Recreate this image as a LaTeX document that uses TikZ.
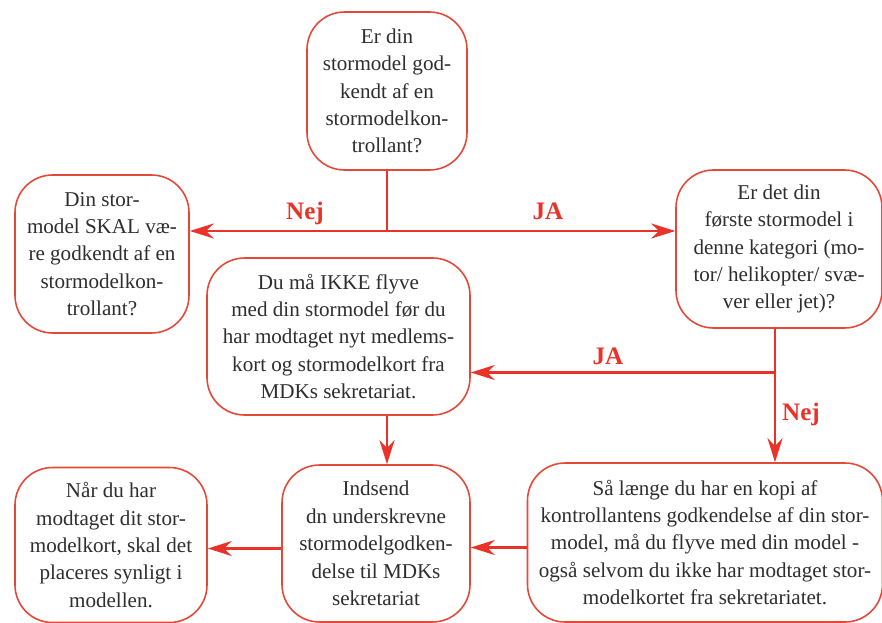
\documentclass[tikz,border=0pt]{standalone}
\usepackage{fontspec}
\setmainfont{Liberation Serif}
\usetikzlibrary{arrows.meta,positioning,calc}
\definecolor{flowred}{RGB}{234,50,40}
\definecolor{boxred}{RGB}{228,72,56}
\tikzset{
  box/.style={rectangle, rounded corners=7.5mm, draw=boxred, fill=white, line width=0.9pt, align=center, text=black!82, font=\fontsize{12}{15.6}\selectfont, inner sep=2pt},
  arrow/.style={-{Stealth[length=4.8mm, width=3mm]}, line width=1.4pt, flowred},
  redline/.style={line width=1.4pt, flowred},
  answer/.style={text=flowred, font=\fontsize{14.3}{16}\selectfont\bfseries}
}

\begin{document}
\begin{tikzpicture}
  \useasboundingbox[fill=white] (0,0) rectangle (17.64,-12.44);
  % question boxes
  \node[box, minimum width=3.2cm, minimum height=3.16cm] (godkendt) at (7.74,-1.82) {Er din\\ stormodel god-\\ kendt af en\\ stormodelkon-\\ trollant?};
  \node[box, minimum width=3.48cm, minimum height=3.16cm] (skal) at (2.04,-5.08) {Din stor-\\ model SKAL væ-\\ re godkendt af en\\ stormodelkon-\\ trollant?};
  \node[box, minimum width=4.12cm, minimum height=3.16cm] (foerste) at (15.58,-4.98) {Er det din\\ første stormodel i\\ denne kategori (mo-\\ tor/ helikopter/ svæ-\\ ver eller jet)?};
  \node[box, minimum width=5.26cm, minimum height=3.14cm] (ikke) at (6.77,-6.73) {Du må IKKE flyve\\ med din stormodel før du\\ har modtaget nyt medlems-\\ kort og stormodelkort fra\\ MDKs sekretariat.};
  % bottom row
  \node[box, minimum width=3.76cm, minimum height=3.14cm] (indsend) at (7.52,-10.87) {Indsend\\ dn underskrevne\\ stormodelgodken-\\ delse til MDKs\\ sekretariat};
  \node[box, minimum width=3.84cm, minimum height=3.1cm] (naar) at (2.22,-10.9) {Når du har\\ modtaget dit stor-\\ modelkort, skal det\\ placeres synligt i\\ modellen.};
  \node[box, minimum width=7.1cm, minimum height=3.18cm] (saa) at (14.1,-10.85) {Så længe du har en kopi af\\ kontrollantens godkendelse af din stor-\\ model, må du flyve med din model -\\ også selvom du ikke har modtaget stor-\\ modelkortet fra sekretariatet.};
  % connectors
  \coordinate (split) at (7.74,-4.62);
  \coordinate (branch) at (15.5,-7.45);
  \draw[redline] (godkendt) -- (split);
  \draw[arrow] (split) -- (split -| skal.east);
  \draw[arrow] (split) -- (split -| foerste.west);
  \draw[redline] (foerste.south -| branch) -- (branch);
  \draw[arrow] (branch) -- (branch |- saa.north);
  \draw[arrow] (branch) -- (branch -| ikke.east);
  \draw[arrow] (godkendt |- ikke.south) -- (godkendt |- indsend.north);
  \draw[arrow] ([yshift=-1mm]saa.west) -- ([yshift=-1mm]saa.west -| indsend.east);
  \draw[arrow] ([yshift=-1mm]indsend.west) -- ([yshift=-1mm]indsend.west -| naar.east);
  % answers
  \node[answer] (nej1) at (6.1,-4.26) {Nej};
  \node[answer] (ja1) at (10.96,-4.22) {JA};
  \node[answer] (ja2) at (12.16,-7.12) {JA};
  \node[answer] (nej2) at (16.02,-8.28) {Nej};
\end{tikzpicture}
\end{document}
